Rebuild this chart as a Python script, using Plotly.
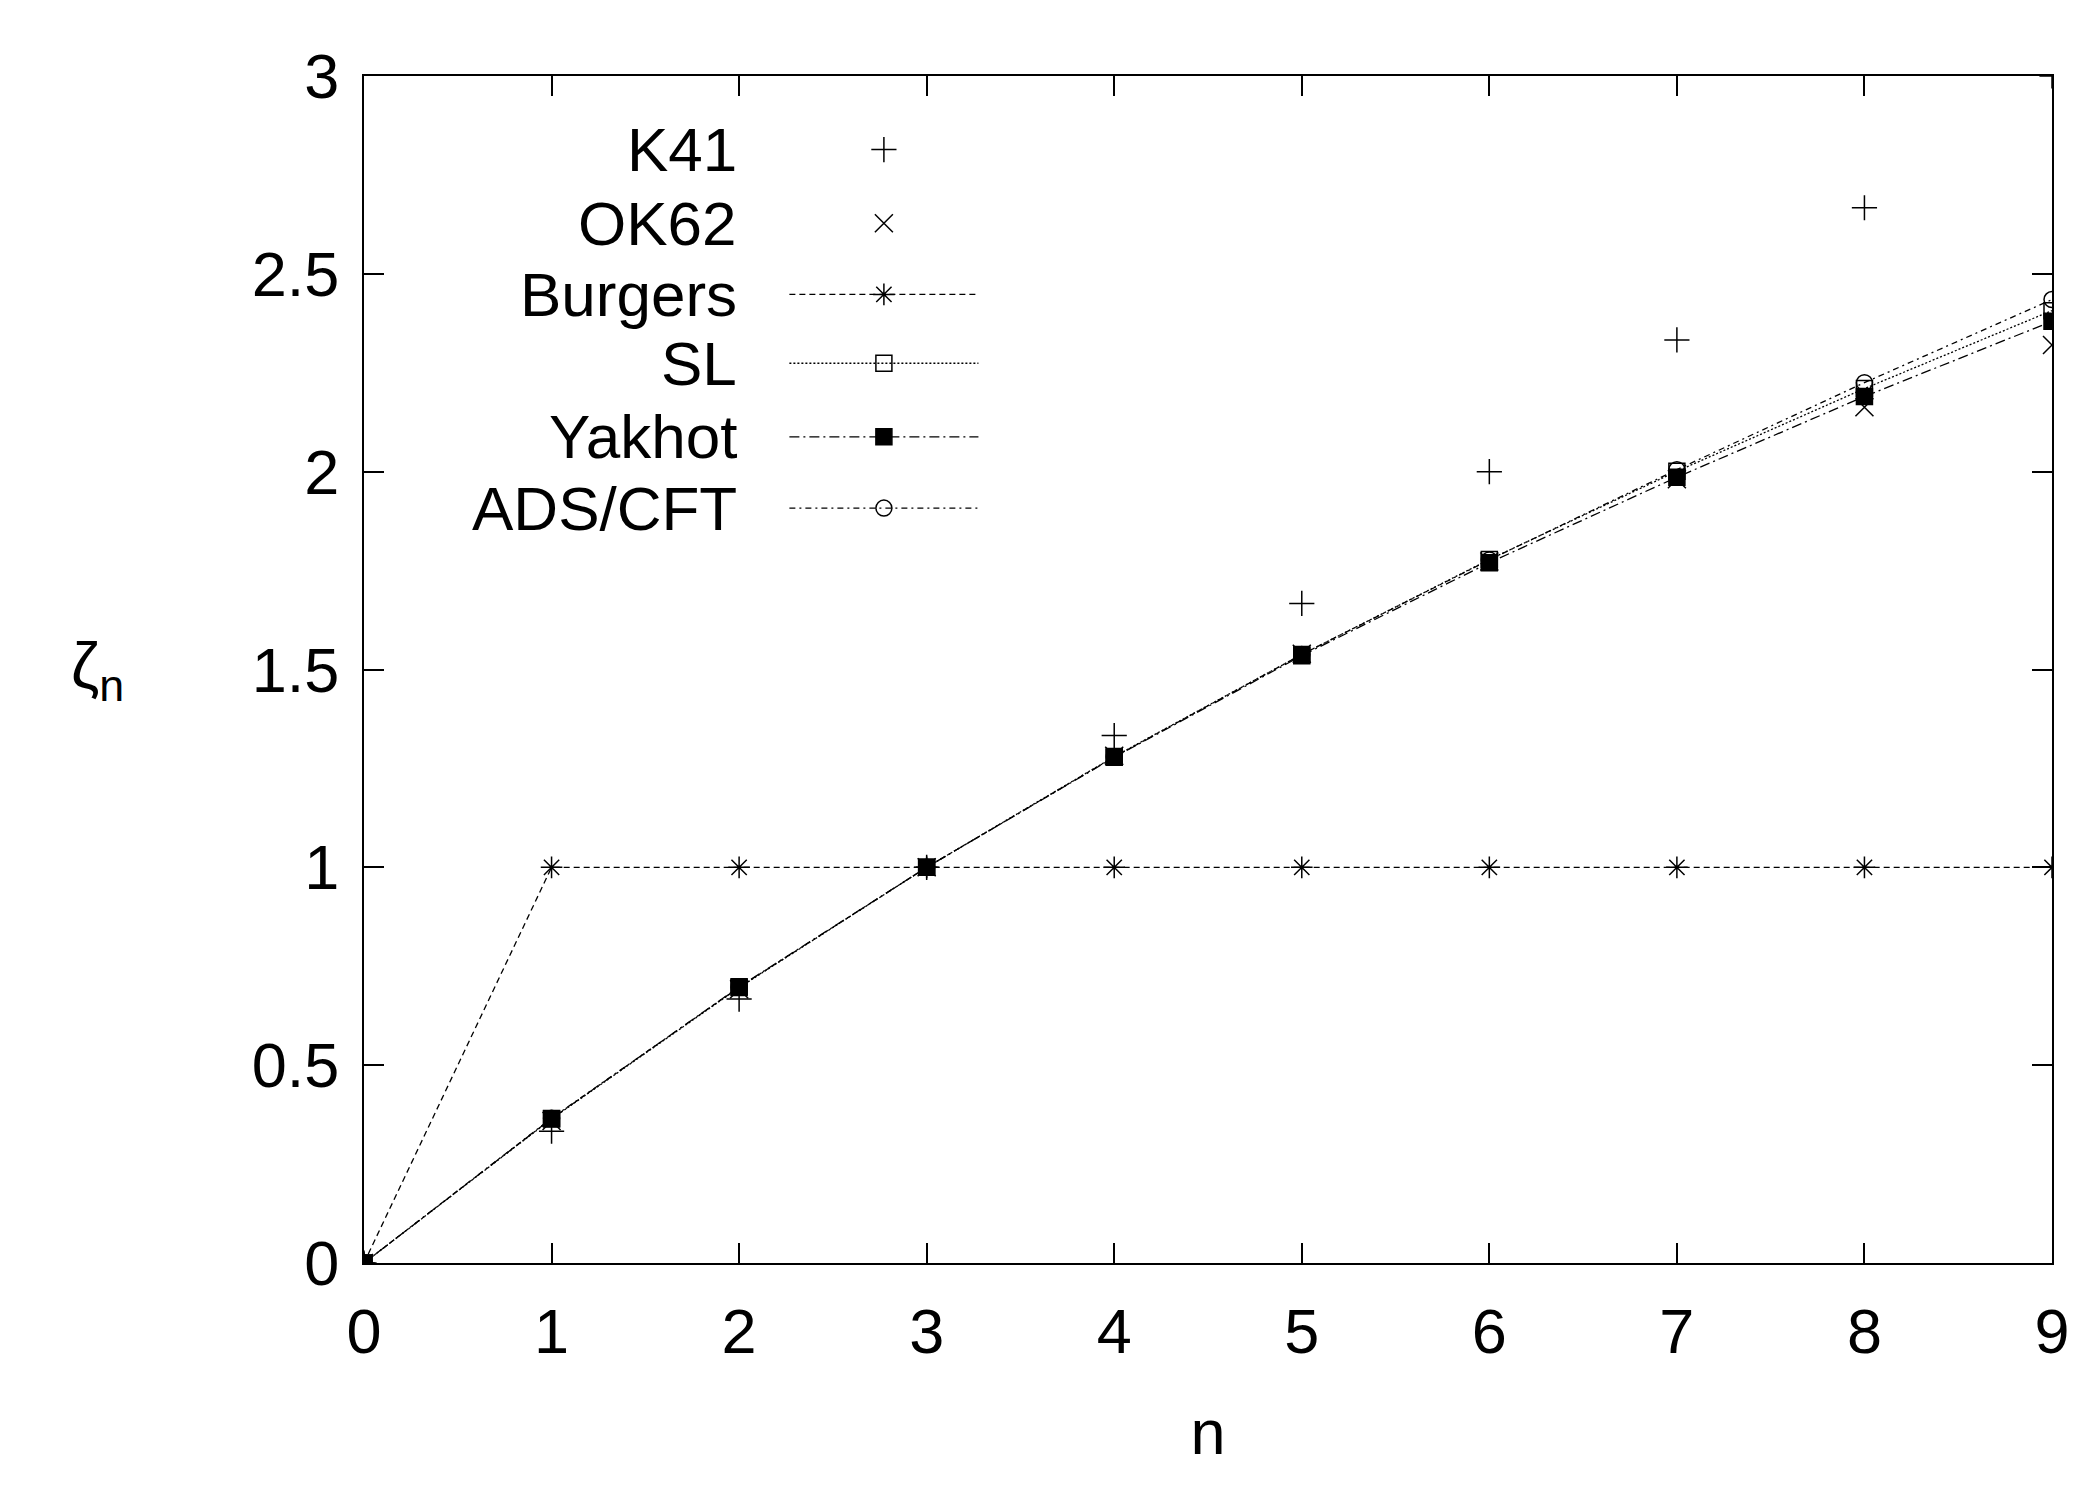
import plotly.graph_objects as go

n = [0, 1, 2, 3, 4, 5, 6, 7, 8, 9]
k41 = [0, 0.333, 0.667, 1.0, 1.333, 1.667, 2.0, 2.333, 2.667, 3.0]
ok62 = [0, 0.359, 0.692, 1.0, 1.282, 1.540, 1.773, 1.981, 2.163, 2.320]
burgers = [0, 1, 1, 1, 1, 1, 1, 1, 1, 1]
sl = [0, 0.364, 0.696, 1.0, 1.280, 1.538, 1.778, 2.001, 2.210, 2.407]
yakhot = [0, 0.365, 0.698, 1.0, 1.278, 1.535, 1.770, 1.986, 2.190, 2.380]
adscft = [0, 0.366, 0.697, 1.0, 1.279, 1.538, 1.777, 2.005, 2.225, 2.435]

names = ["K41", "OK62", "Burgers", "SL", "Yakhot", "ADS/CFT"]
series = [k41, ok62, burgers, sl, yakhot, adscft]
symbols = ["cross-thin-open", "x-thin-open", "asterisk-open", "square-open", "square", "circle-open"]
modes = ["markers", "markers", "lines+markers", "lines+markers", "lines+markers", "lines+markers"]
dashes = [None, None, "6px,4px", "2px,2px", "10px,4px,2px,4px", "6px,4px,2px,4px"]
sizes = [18, 18, 18, 16, 16, 16]

fig = go.Figure()
for nm, ys, sy, md, ds, sz in zip(names, series, symbols, modes, dashes, sizes):
    fig.add_trace(go.Scatter(x=n, y=ys, mode=md, name=nm, showlegend=False,
                             line=dict(color="black", width=1.3, dash=ds),
                             marker=dict(symbol=sy, size=sz, color="black",
                                         line=dict(color="black", width=1.5))))

rows = [0.938, 0.876, 0.816, 0.758, 0.696, 0.636]
for nm, sy, md, ds, sz, ry in zip(names, symbols, modes, dashes, sizes, rows):
    if "lines" in md:
        fig.add_trace(go.Scatter(x=[0.252, 0.364], y=[ry, ry], mode="lines", xaxis="x2", yaxis="y2",
                                 showlegend=False, line=dict(color="black", width=1.3, dash=ds)))
    fig.add_trace(go.Scatter(x=[0.308], y=[ry], mode="markers", xaxis="x2", yaxis="y2", showlegend=False,
                             marker=dict(symbol=sy, size=sz, color="black", line=dict(color="black", width=1.5))))
    fig.add_annotation(x=0.222, y=ry, xref="paper", yref="paper", text=nm, showarrow=False,
                       xanchor="right", yanchor="middle", font=dict(size=62))

fig.add_annotation(x=-0.175, y=0.5, xref="paper", yref="paper", text="ζ<sub>n</sub>", showarrow=False,
                   font=dict(size=64))

ax = dict(ticks="inside", ticklen=20, tickwidth=1.5, mirror="ticks", showline=True, linecolor="black",
          linewidth=2, showgrid=False, zeroline=False, tickfont=dict(size=63), tickcolor="black")
fig.update_layout(
    width=2098, height=1503, plot_bgcolor="white", paper_bgcolor="white",
    font=dict(family="Liberation Sans", color="black"),
    margin=dict(l=356, r=54, t=68, b=248),
    xaxis=dict(range=[0, 9], dtick=1, ticklabelstandoff=12,
               title=dict(text="n", font=dict(size=63), standoff=45), **ax),
    yaxis=dict(range=[0, 3], dtick=0.5, ticklabelstandoff=10, **ax),
    xaxis2=dict(range=[0, 1], overlaying="x", visible=False),
    yaxis2=dict(range=[0, 1], overlaying="y", visible=False),
)
fig.write_html("out.html")
